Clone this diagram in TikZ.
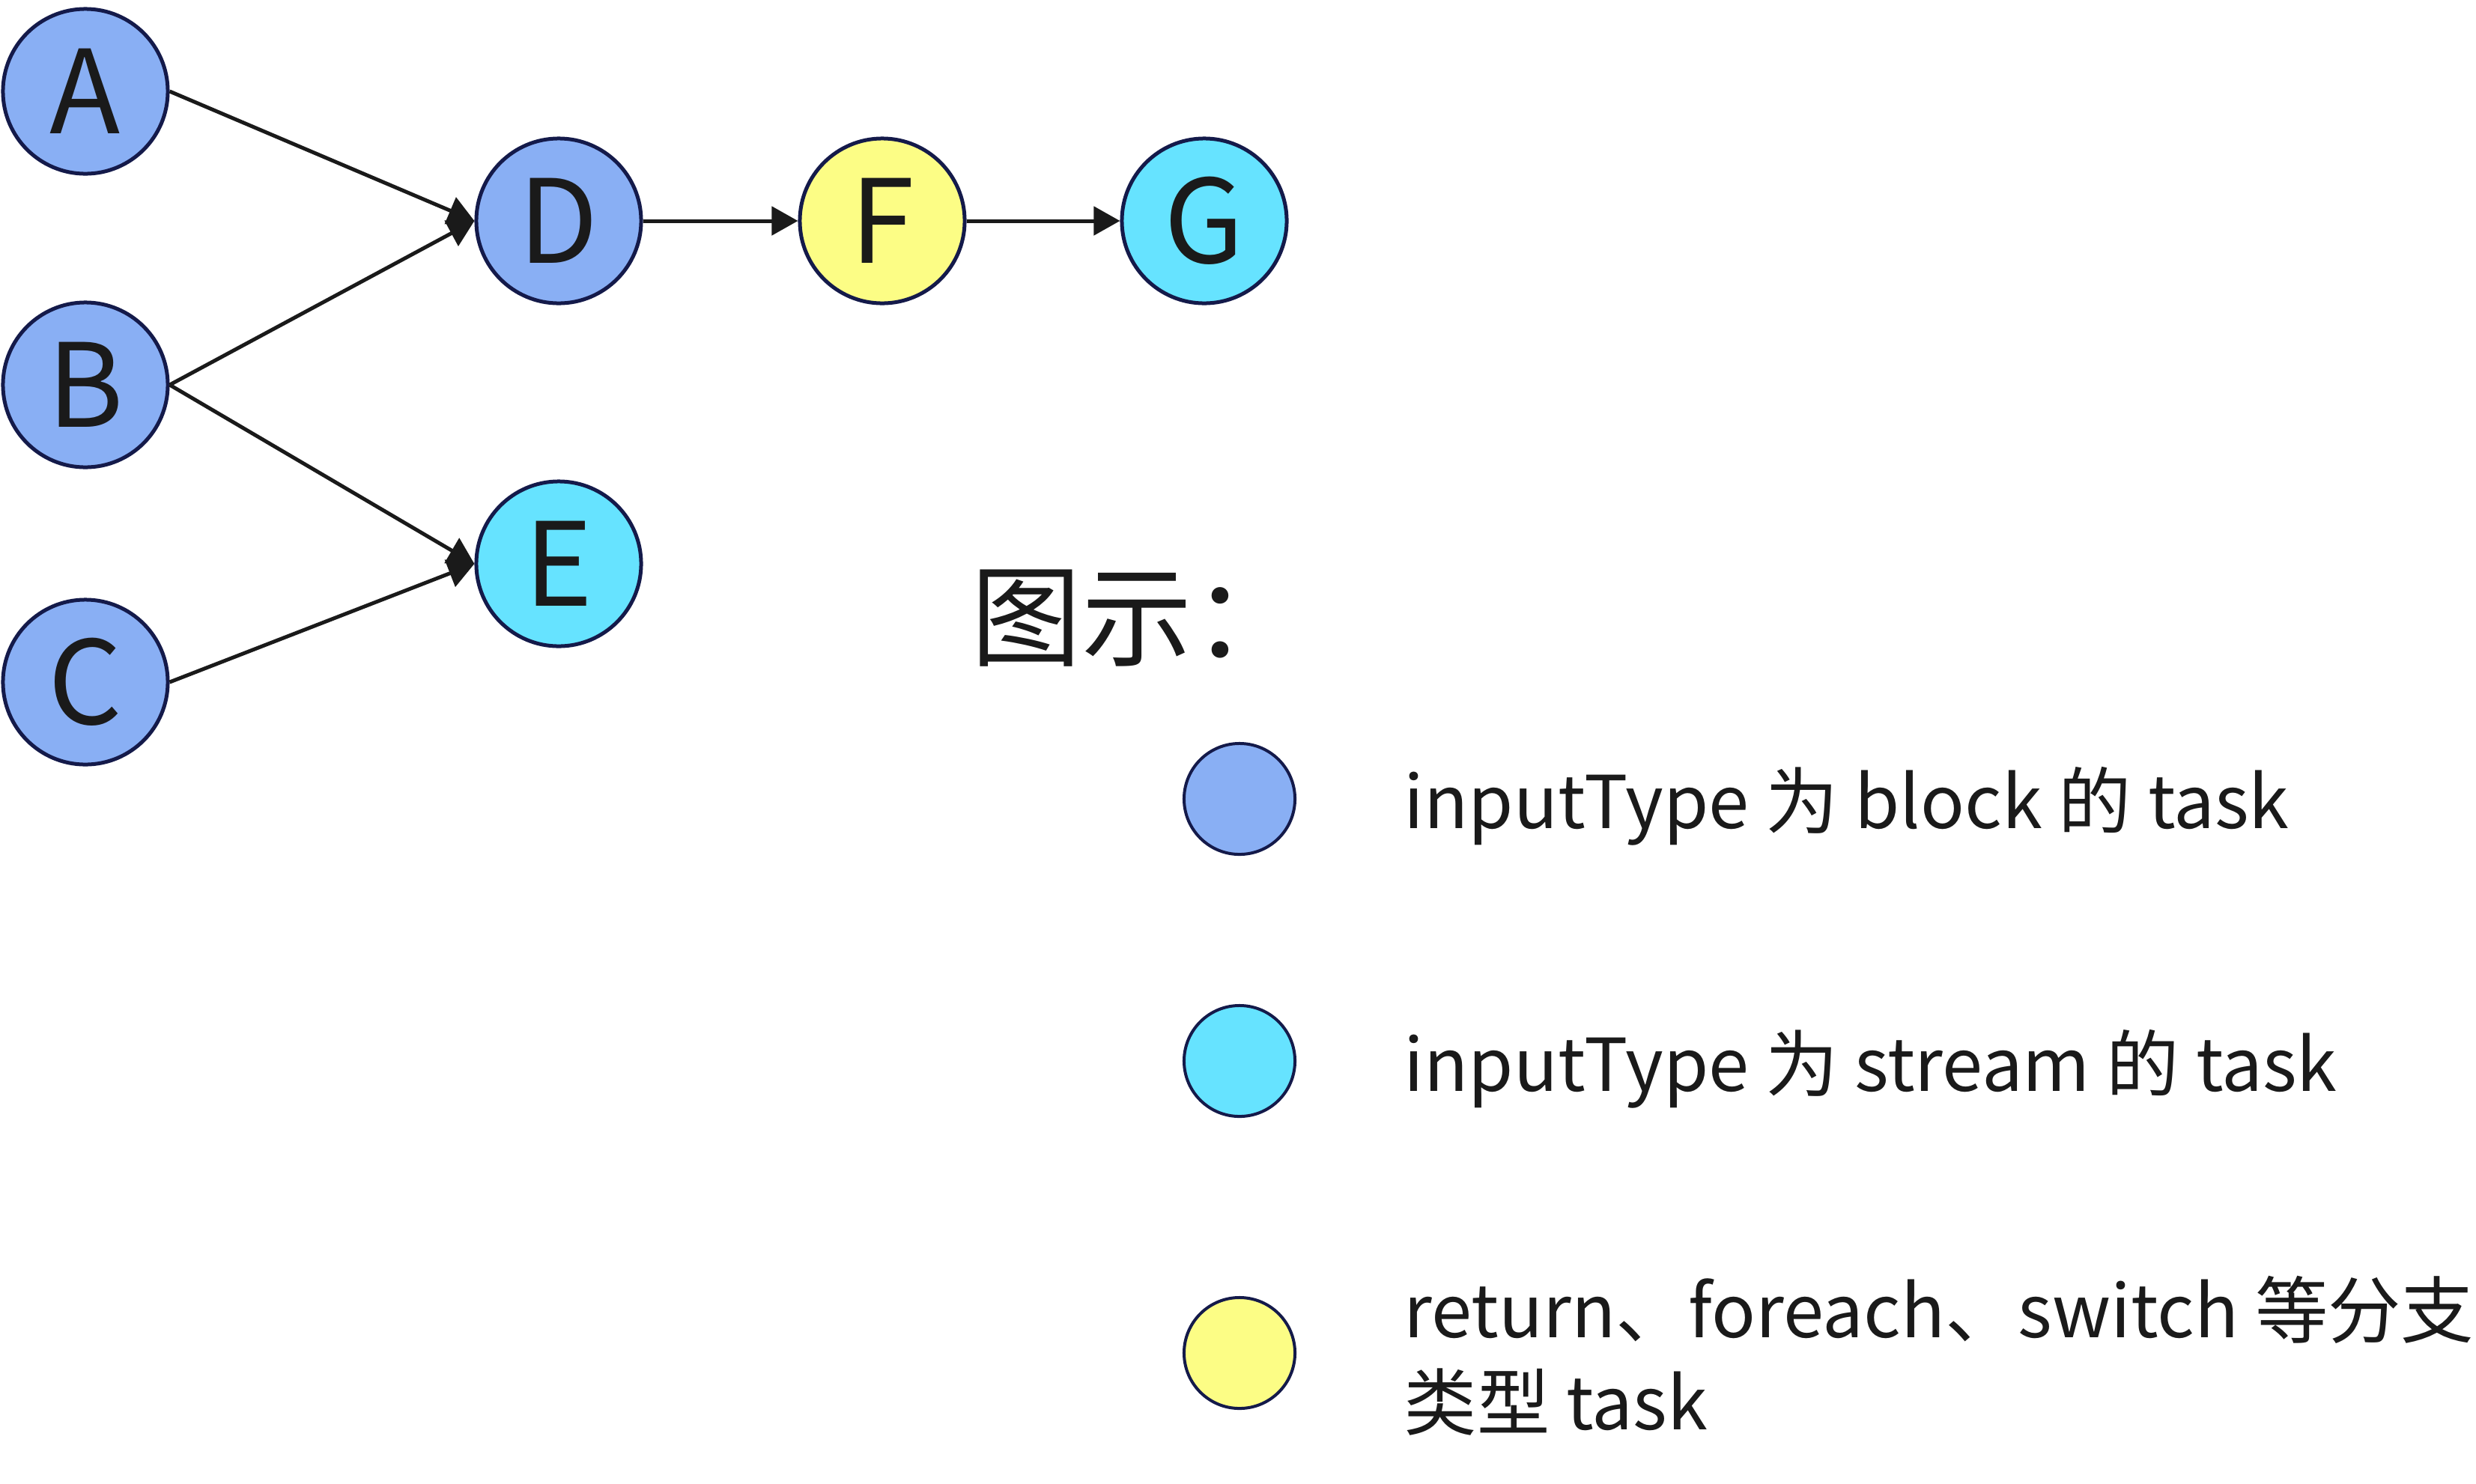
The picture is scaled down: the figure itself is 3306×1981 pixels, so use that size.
\documentclass[tikz,border=0pt]{standalone}
\usepackage{fontspec}
\setmainfont{Noto Sans CJK SC}
\usetikzlibrary{arrows.meta}

\definecolor{blockblue}{HTML}{89AFF4}
\definecolor{streamcyan}{HTML}{66E3FF}
\definecolor{branchyellow}{HTML}{FCFD85}
\definecolor{rim}{HTML}{141A4A}
\definecolor{ink}{HTML}{1A1A1A}

\begin{document}
\begin{tikzpicture}[x=0.01cm,y=-0.01cm,
  task/.style={circle,draw=rim,line width=0.05cm,minimum size=2.2cm,inner sep=0pt,text=ink,font=\fontsize{44}{44}\selectfont},
  key/.style={circle,draw=rim,line width=0.04cm,minimum size=1.48cm,inner sep=0pt},
  link/.style={draw=ink,line width=0.05cm,-{Triangle[length=0.35cm,width=0.38cm]}},
  note/.style={anchor=west,text=ink,inner sep=0pt,align=left,font=\fontsize{27.7}{35}\selectfont}]

\useasboundingbox (0,0) rectangle (3306,1981);

\foreach \name/\x/\y/\col in {A/114/122/blockblue, B/114/514/blockblue, C/114/911/blockblue,
    D/746/295/blockblue, E/746/753/streamcyan, F/1178/295/branchyellow, G/1608/295/streamcyan}
  \node[task,fill=\col] (\name) at (\x,\y) {\name};

\foreach \a/\b in {A/D,B/D,B/E,C/E,D/F,F/G}
  \draw[link] (\a.east) -- (\b.west);

% legend
\node[anchor=west,inner sep=0pt,text=ink,font=\fontsize{42}{42}\selectfont] (title) at (1296,826) {图示：};

\node[key,fill=blockblue] (k1) at (1655,1067) {};
\node[key,fill=streamcyan] (k2) at (1655,1417) {};
\node[key,fill=branchyellow] (k3) at (1655,1807) {};

\node[note] (t1) at (1874,1077) {inputType 为 block 的 task};
\node[note] (t2) at (1874,1428) {inputType 为 stream 的 task};
\node[note] (t3) at (1874,1811) {return、foreach、switch 等分支\\类型 task};

\end{tikzpicture}
\end{document}
